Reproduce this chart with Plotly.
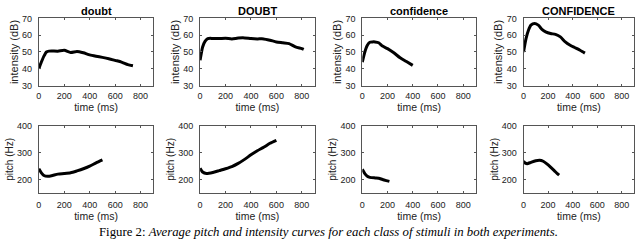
import plotly.graph_objects as go

# ---------------- data ----------------
titles = ["doubt", "DOUBT", "confidence", "CONFIDENCE"]

int_doubt_t = [0, 20, 40, 60, 80, 100, 150, 200, 250, 300, 350, 400, 450, 500, 550, 600, 650, 700, 740]
int_doubt_v = [40, 44, 47.5, 50, 50.5, 50.6, 50.5, 51, 49.7, 50.3, 49.5, 48.3, 47.5, 46.8, 46, 45, 44, 42.5, 41.8]

int_DOUBT_t = [0, 20, 40, 60, 80, 100, 150, 200, 250, 300, 350, 400, 450, 500, 550, 600, 650, 700, 750, 800, 815]
int_DOUBT_v = [45, 53, 56.5, 58, 58.2, 58, 58, 58.2, 57.8, 58.3, 58.4, 58, 57.8, 57.8, 57, 56, 55.5, 55, 53, 52, 51.5]

int_conf_t = [0, 20, 40, 60, 80, 100, 130, 160, 200, 250, 300, 350, 400]
int_conf_v = [44, 50, 54, 55.8, 56, 56, 55.5, 53.5, 52, 49.5, 46.5, 44.3, 42]

int_CONF_t = [0, 20, 40, 60, 90, 120, 150, 180, 220, 260, 300, 340, 380, 420, 460, 500]
int_CONF_v = [50, 58, 63, 66, 67, 66, 63.5, 62, 61, 60.5, 59, 56, 54, 52.5, 51, 49.3]

pit_doubt_t = [0, 20, 40, 70, 100, 150, 200, 250, 300, 350, 400, 450, 500]
pit_doubt_v = [240, 225, 215, 212, 214, 220, 222, 225, 232, 240, 250, 262, 273]

pit_DOUBT_t = [0, 20, 50, 100, 150, 200, 250, 300, 350, 400, 450, 500, 550, 600]
pit_DOUBT_v = [242, 228, 222, 226, 233, 240, 248, 260, 275, 292, 307, 320, 335, 346]

pit_conf_t = [0, 20, 40, 60, 100, 130, 160, 190, 215]
pit_conf_v = [238, 222, 212, 208, 206, 205, 200, 196, 193]

pit_CONF_t = [0, 15, 30, 60, 100, 130, 160, 190, 220, 250, 275, 290]
pit_CONF_v = [268, 261, 259, 264, 270, 272, 268, 258, 246, 233, 222, 216]

x_ticks = [0, 200, 400, 600, 800]
int_ticks = [30, 40, 50, 60, 70]
pit_ticks = [200, 300, 400]

caption = "Figure 2: <i>Average pitch and intensity curves for each class of stimuli in both experiments.</i>"

# ---------------- layout ----------------
W, H = 640, 243
xpix = [(36, 151), (198, 313), (361, 475), (523, 634)]
ypix_top = (14, 84)
ypix_bot = (126, 196)

def xd(p):
    return [p[0] / W, p[1] / W]

def yd(p):
    return [1 - p[1] / H, 1 - p[0] / H]

intensity = [(int_doubt_t, int_doubt_v), (int_DOUBT_t, int_DOUBT_v),
             (int_conf_t, int_conf_v), (int_CONF_t, int_CONF_v)]
pitch = [(pit_doubt_t, pit_doubt_v), (pit_DOUBT_t, pit_DOUBT_v),
         (pit_conf_t, pit_conf_v), (pit_CONF_t, pit_CONF_v)]

fig = go.Figure()
font_fam = "Liberation Sans, Arial, sans-serif"
axcol = "#555555"

layout = dict(
    width=W, height=H, margin=dict(l=0, r=0, t=0, b=0),
    paper_bgcolor="white", plot_bgcolor="white", showlegend=False,
    font=dict(family=font_fam, color="#222222"),
)

annotations = []
for i in range(4):
    for row in range(2):
        k = i * 2 + row + 1
        xa = "xaxis" if k == 1 else f"xaxis{k}"
        ya = "yaxis" if k == 1 else f"yaxis{k}"
        xr = "x" if k == 1 else f"x{k}"
        yr = "y" if k == 1 else f"y{k}"
        t, v = (intensity if row == 0 else pitch)[i]
        fig.add_trace(go.Scatter(x=t, y=v, mode="lines",
                                 line=dict(color="black", width=3, shape="spline", smoothing=0.6),
                                 xaxis=xr, yaxis=yr, hoverinfo="skip"))
        common = dict(showline=True, linecolor=axcol, linewidth=1, mirror="ticks", ticks="inside",
                      ticklen=2, tickcolor=axcol, showgrid=False, zeroline=False,
                      tickfont=dict(size=9, color="#222222", family=font_fam))
        layout[xa] = dict(common, domain=xd(xpix[i]), range=[0, 900], tickvals=x_ticks,
                          ticklabelstandoff=2 if row == 0 else 3,
                          anchor=yr, title=dict(text="time (ms)", font=dict(size=10.5), standoff=2))
        if row == 0:
            layout[ya] = dict(common, domain=yd(ypix_top), range=[30, 70], tickvals=int_ticks,
                              ticklabelstandoff=4,
                              anchor=xr, title=dict(text="intensity (dB)", font=dict(size=11), standoff=1))
        else:
            layout[ya] = dict(common, domain=yd(ypix_bot), range=[150, 400], tickvals=pit_ticks,
                              ticklabelstandoff=4,
                              anchor=xr, title=dict(text="pitch (Hz)", font=dict(size=10), standoff=1))
    cx = (xpix[i][0] + xpix[i][1]) / 2 / W
    annotations.append(dict(text=f"<b>{titles[i]}</b>", x=cx, y=1 - 6 / H, xref="paper", yref="paper",
                            showarrow=False, font=dict(size=11, family=font_fam, color="black"),
                            xanchor="center", yanchor="middle"))

annotations.append(dict(text=caption, x=327 / W, y=1 - 237 / H, xref="paper", yref="paper", showarrow=False,
                        font=dict(size=12.8, family="Liberation Serif, Times New Roman, serif", color="black"),
                        xanchor="center", yanchor="middle"))
layout["annotations"] = annotations
fig.update_layout(**layout)
fig.write_html("out.html", config={"displayModeBar": False, "staticPlot": True},
               post_script="document.body.style.margin='0';")
